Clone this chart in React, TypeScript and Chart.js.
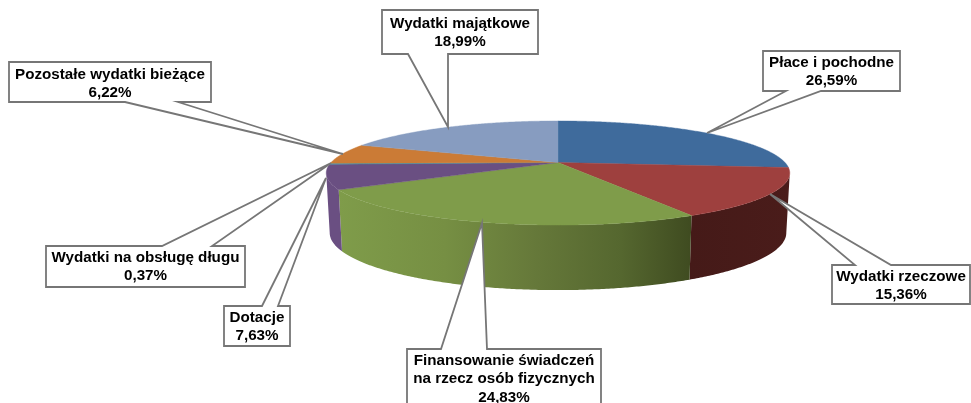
import React, { useEffect, useRef } from "react";
import Chart from "chart.js/auto";

const categories = [
  "Płace i pochodne",
  "Wydatki rzeczowe",
  "Finansowanie świadczeń na rzecz osób fizycznych",
  "Dotacje",
  "Wydatki na obsługę długu",
  "Pozostałe wydatki bieżące",
  "Wydatki majątkowe",
];
const values = [26.59, 15.36, 24.83, 7.63, 0.37, 6.22, 18.99];
const labelLines = [
  ["Płace i pochodne"],
  ["Wydatki rzeczowe"],
  ["Finansowanie świadczeń", "na rzecz osób fizycznych"],
  ["Dotacje"],
  ["Wydatki na obsługę długu"],
  ["Pozostałe wydatki bieżące"],
  ["Wydatki majątkowe"],
];
const topColors = ["#3F6B9C", "#9E403E", "#7F9C4A", "#6A4F82", "#3C8DA3", "#CB7B36", "#879CC0"];
const wallStops: [number, string][][] = [
  [[0, "#2A4A6E"], [1, "#2A4A6E"]],
  [[0, "#451A18"], [1, "#4A1C1A"]],
  [[0, "#7F9C4A"], [0.3, "#768F43"], [0.55, "#66793A"], [0.8, "#55672F"], [1, "#3F4B20"]],
  [[0, "#6A4F82"], [1, "#6A4F82"]],
  [[0, "#3C8DA3"], [1, "#3C8DA3"]],
  [[0, "#CB7B36"], [1, "#CB7B36"]],
  [[0, "#879CC0"], [1, "#879CC0"]],
];

// box: left, top, right, bottom; base: two x on the box edge; tip: where the callout points; text: first line offset
const callouts = [
  { box: [763, 51, 900, 91], edge: "bottom", base: [786, 821], tip: [707, 133], text: 12 },
  { box: [832, 265, 970, 304], edge: "top", base: [855, 891], tip: [770, 194], text: 12 },
  { box: [407, 349, 601, 412], edge: "top", base: [441, 487], tip: [482, 223], text: 12 },
  { box: [224, 306, 290, 346], edge: "top", base: [262, 278], tip: [326, 178], text: 12 },
  { box: [46, 246, 245, 287], edge: "top", base: [162, 212], tip: [331, 163], text: 12 },
  { box: [9, 62, 211, 102], edge: "bottom", base: [125, 178], tip: [343, 154], text: 13 },
  { box: [382, 10, 538, 54], edge: "bottom", base: [408, 448], tip: [448, 127], text: 14 },
];

const K = 0.202;
const TILT = 0.22;
const project = (el: any, a: number, low: boolean): [number, number] => {
  const u = Math.cos(a);
  const v = Math.sin(a);
  const w = 1 / (1 - K * v);
  const R = el.outerRadius;
  if (low) return [el.x + R * 0.985 * u * w, el.y + 58.75 + R * TILT * 1.1 * v * w];
  return [el.x + R * u * w, el.y + R * TILT * v * w];
};

const pie3d = {
  id: "pie3d",
  beforeDatasetDraw(chart: any) {
    const ctx: CanvasRenderingContext2D = chart.ctx;
    const arcs = chart.getDatasetMeta(0).data;
    const STEP = Math.PI / 360;
    // the wall is visible between the two points where the projected rim is widest
    const WALL_START = Math.asin(K);
    const WALL_END = Math.PI - Math.asin(K);
    ctx.save();
    ctx.lineJoin = "round";
    arcs.forEach((el: any, i: number) => {
      const from = Math.max(el.startAngle, WALL_START);
      const to = Math.min(el.endAngle, WALL_END);
      if (to <= from) return;
      const upper: [number, number][] = [];
      const lower: [number, number][] = [];
      for (let a = from; a < to; a += STEP) {
        upper.push(project(el, a, false));
        lower.push(project(el, a, true));
      }
      upper.push(project(el, to, false));
      lower.push(project(el, to, true));
      const xs = upper.concat(lower).map((p) => p[0]);
      const g = ctx.createLinearGradient(Math.min(...xs), 0, Math.max(...xs), 0);
      wallStops[i].forEach(([o, c]) => g.addColorStop(o, c));
      ctx.beginPath();
      upper.forEach((p, j) => (j ? ctx.lineTo(p[0], p[1]) : ctx.moveTo(p[0], p[1])));
      lower.reverse().forEach((p) => ctx.lineTo(p[0], p[1]));
      ctx.closePath();
      ctx.fillStyle = g;
      ctx.fill();
    });
    // top face
    arcs.forEach((el: any, i: number) => {
      ctx.beginPath();
      ctx.moveTo(el.x, el.y);
      for (let a = el.startAngle; a < el.endAngle; a += STEP) {
        const p = project(el, a, false);
        ctx.lineTo(p[0], p[1]);
      }
      const e = project(el, el.endAngle, false);
      ctx.lineTo(e[0], e[1]);
      ctx.closePath();
      ctx.fillStyle = topColors[i];
      ctx.strokeStyle = topColors[i];
      ctx.lineWidth = 0.4;
      ctx.fill();
      ctx.stroke();
    });
    ctx.restore();
    return false;
  },
  afterDraw(chart: any) {
    const ctx: CanvasRenderingContext2D = chart.ctx;
    ctx.save();
    callouts.forEach((c, i) => {
      const [l, t, r, b] = c.box;
      const [b0, b1] = c.base;
      ctx.beginPath();
      ctx.moveTo(l, t);
      if (c.edge === "top") {
        ctx.lineTo(b0, t);
        ctx.lineTo(c.tip[0], c.tip[1]);
        ctx.lineTo(b1, t);
      }
      ctx.lineTo(r, t);
      ctx.lineTo(r, b);
      if (c.edge === "bottom") {
        ctx.lineTo(b1, b);
        ctx.lineTo(c.tip[0], c.tip[1]);
        ctx.lineTo(b0, b);
      }
      ctx.lineTo(l, b);
      ctx.closePath();
      ctx.fillStyle = "#FFFFFF";
      ctx.fill();
      ctx.strokeStyle = "#767676";
      ctx.lineWidth = 1.8;
      ctx.stroke();
      const lines = [...labelLines[i], values[i].toFixed(2).replace(".", ",") + "%"];
      ctx.fillStyle = "#000000";
      ctx.font = 'bold 15.2px "Liberation Sans", Arial, sans-serif';
      ctx.textAlign = "center";
      ctx.textBaseline = "middle";
      const cx = (l + r) / 2;
      lines.forEach((s, j) => ctx.fillText(s, cx, t + c.text + j * 18.3));
    });
    ctx.restore();
  },
};

export default function App() {
  const ref = useRef<HTMLCanvasElement | null>(null);
  useEffect(() => {
    const chart = new Chart(ref.current!, {
      type: "pie",
      data: {
        labels: categories,
        datasets: [{ data: values, backgroundColor: topColors, borderWidth: 0 }],
      },
      options: {
        responsive: false,
        animation: false,
        radius: 227,
        layout: { padding: { left: 145, bottom: 78 } },
        plugins: { legend: { display: false }, tooltip: { enabled: false } },
      } as any,
      plugins: [pie3d],
    });
    return () => chart.destroy();
  }, []);
  return (
    <canvas
      ref={ref}
      width={971}
      height={403}
      style={{ position: "absolute", left: 0, top: 0, display: "block" }}
    />
  );
}
